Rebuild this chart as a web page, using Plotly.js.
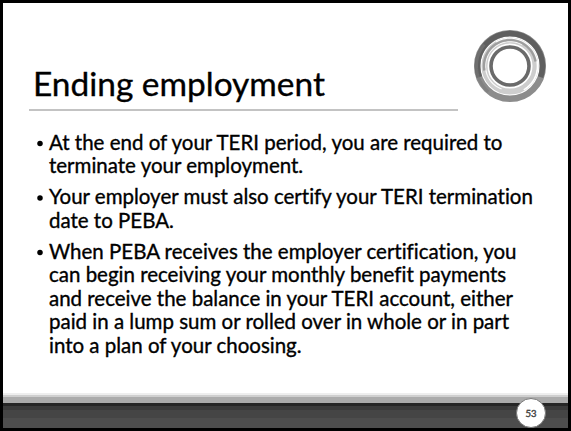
<!DOCTYPE html>
<html>
<head>
<meta charset="utf-8">
<script src="https://cdn.plot.ly/plotly-3.0.1.min.js"></script>
<style>
  html, body { margin: 0; padding: 0; background: #000; }
  #chart { width: 571px; height: 431px; }
  #chart text { font-variant-ligatures: none; font-feature-settings: "liga" 0, "clig" 0; }
  #chart .textpoint text { paint-order: stroke; stroke: currentColor; stroke-width: 0.35px; }
</style>
</head>
<body>
<div id="chart"></div>
<script>
// ---- content ----
const titleText = "Ending employment";
const bullet1 = [
  "At the end of your TERI period, you are required to",
  "terminate your employment."
];
const bullet2 = [
  "Your employer must also certify your TERI termination",
  "date to PEBA."
];
const bullet3 = [
  "When PEBA receives the employer certification, you",
  "can begin receiving your monthly benefit payments",
  "and receive the balance in your TERI account, either",
  "paid in a lump sum or rolled over in whole or in part",
  "into a plan of your choosing."
];
const pageNumber = "53";

// ---- layout / style ----
const W = 571, H = 431;
const FONT = "Lato, 'Open Sans', sans-serif";
function fitSize(text, target) {
  const ctx = document.createElement('canvas').getContext('2d');
  ctx.font = "100px Lato";
  return 100 * target / ctx.measureText(text).width;
}
const bodySize = fitSize(bullet1[0], 456);
const titleSize = fitSize(titleText, 292);
const pageSize = 9.5;

const TEXT_X = 49, BULLET_X = 40, TITLE_X = 33;
const TITLE_BASELINE = 96, PAGE_BASELINE = 416.5;
const FIRST_BASELINE = 150, STEP = 23.5, PARA_GAP = 7.5;
const paragraphs = [bullet1, bullet2, bullet3];

const lineX = [], lineB = [], lineT = [], bulX = [], bulY = [];
let base = FIRST_BASELINE;
paragraphs.forEach(function (p) {
  bulX.push(BULLET_X); bulY.push(base - 6.5);
  p.forEach(function (ln) {
    lineX.push(TEXT_X); lineB.push(base); lineT.push(ln);
    base += STEP;
  });
  base += PARA_GAP;
});

// Plotly puts the baseline of a 'middle' text 0.25 em below its anchor point
function anchorY(baselines, fs) { return baselines.map(function (b) { return b - 0.25 * fs; }); }

const traces = [
  { type: 'scatter', mode: 'text', x: [TITLE_X], y: anchorY([TITLE_BASELINE], titleSize), text: [titleText],
    textposition: 'middle right', textfont: { family: FONT, size: titleSize, color: '#000' },
    hoverinfo: 'skip', showlegend: false, cliponaxis: false },
  { type: 'scatter', mode: 'text', x: lineX, y: anchorY(lineB, bodySize), text: lineT,
    textposition: 'middle right', textfont: { family: FONT, size: bodySize, color: '#000' },
    hoverinfo: 'skip', showlegend: false, cliponaxis: false },
  { type: 'scatter', mode: 'markers', x: bulX, y: bulY,
    marker: { symbol: 'circle', size: 5.5, color: '#000' },
    hoverinfo: 'skip', showlegend: false, cliponaxis: false },
  { type: 'scatter', mode: 'text', x: [531], y: anchorY([PAGE_BASELINE], pageSize), text: [pageNumber],
    textposition: 'middle center', textfont: { family: FONT, size: pageSize, color: '#4a4a4a' },
    hoverinfo: 'skip', showlegend: false, cliponaxis: false }
];

// decorative shapes
function rect(x0, y0, x1, y1, c) {
  return { type: 'rect', xref: 'x', yref: 'y', x0: x0, y0: y0, x1: x1, y1: y1,
    fillcolor: c, line: { width: 0 }, layer: 'below' };
}
function circ(cx, cy, r, lw, c, fill) {
  return { type: 'circle', xref: 'x', yref: 'y', x0: cx - r, x1: cx + r, y0: cy - r, y1: cy + r,
    fillcolor: fill || 'rgba(0,0,0,0)', line: { width: lw, color: c }, layer: 'below' };
}
function arc(cx, cy, r, a0, a1, lw, c, op) {
  let d = '';
  const n = 40;
  for (let i = 0; i <= n; i++) {
    const a = (a0 + (a1 - a0) * i / n) * Math.PI / 180;
    const x = cx + r * Math.cos(a), y = cy - r * Math.sin(a);
    d += (i === 0 ? 'M' : 'L') + x.toFixed(2) + ',' + y.toFixed(2) + ' ';
  }
  return { type: 'path', xref: 'x', yref: 'y', path: d, line: { width: lw, color: c },
    opacity: op == null ? 1 : op, layer: 'below' };
}

const LX = 510, LY = 66;
const shapes = [
  rect(3, 3, 568, 395, '#ffffff'),
  rect(3, 393, 568, 395, '#eeeeee'),
  rect(3, 395, 568, 397, '#cfcfcf'),
  rect(3, 397, 568, 403, '#ababab'),
  rect(3, 403, 568, 405.5, '#262626'),
  rect(3, 405.5, 568, 410, '#3b3b3b'),
  rect(3, 410, 568, 418, '#454545'),
  rect(3, 418, 568, 428, '#4d4d4d'),
  // title rule
  { type: 'line', xref: 'x', yref: 'y', x0: 29, x1: 458, y0: 110, y1: 110,
    line: { width: 2, color: '#c3c3c3' }, layer: 'below' },
  // logo
  circ(LX, LY, 32.8, 6.5, '#8c8c8c'),
  arc(LX, LY, 32.5, 200, -20, 5.5, '#585858', 0.85),
  arc(LX, LY, 33.5, 230, 140, 3, '#7a7a7a', 0.6),
  circ(LX, LY, 25.5, 6, '#cdcdcd'),
  arc(LX, LY, 27.5, 120, -60, 1.6, '#ffffff', 1),
  arc(LX, LY, 24.5, 250, 60, 1.2, '#ffffff', 0.9),
  arc(LX, LY, 26, 190, 10, 2.5, '#8a8a8a', 0.7),
  circ(LX, LY, 19, 3.6, '#6a6a6a'),
  // page number badge
  circ(531, 413, 14.5, 1, '#7a7a7a', '#ffffff')
];

const layout = {
  width: W, height: H,
  margin: { l: 0, r: 0, t: 0, b: 0, pad: 0 },
  paper_bgcolor: '#000', plot_bgcolor: '#000',
  xaxis: { range: [0, W], visible: false, fixedrange: true },
  yaxis: { range: [H, 0], visible: false, fixedrange: true },
  shapes: shapes,
  showlegend: false,
  hovermode: false
};

Plotly.newPlot('chart', traces, layout, { staticPlot: true, displayModeBar: false });
</script>
</body>
</html>
